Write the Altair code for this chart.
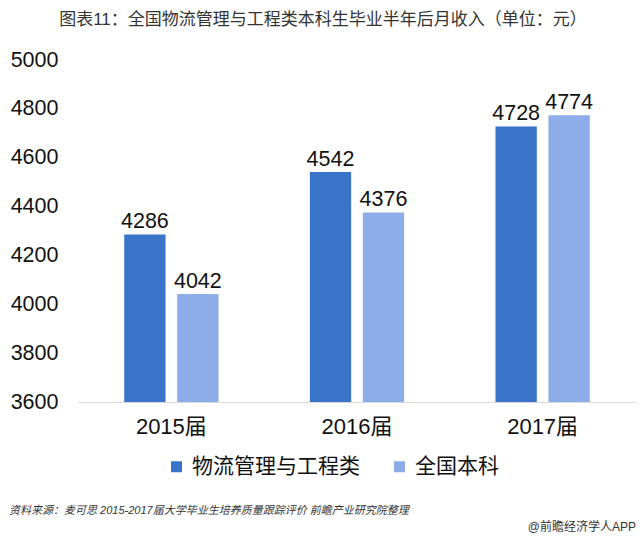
import altair as alt
import pandas as pd

years = ["2015届", "2016届", "2017届"]
series = ["物流管理与工程类", "全国本科"]
logistics = [4286, 4542, 4728]
national = [4042, 4376, 4774]
y_ticks = [3600, 3800, 4000, 4200, 4400, 4600, 4800, 5000]
colors = ["#3A74C8", "#8EACE8"]

title_text = "图表11：全国物流管理与工程类本科生毕业半年后月收入（单位：元）"
source_text = "资料来源：麦可思 2015-2017届大学毕业生培养质量跟踪评价 前瞻产业研究院整理"
brand_text = "@前瞻经济学人APP"

rows = []
for i, y in enumerate(years):
    rows.append({"year": y, "series": series[0], "value": logistics[i]})
    rows.append({"year": y, "series": series[1], "value": national[i]})
df = pd.DataFrame(rows)

FONT = "Liberation Sans, Arial, Noto Sans CJK SC, sans-serif"

x_enc = alt.X("year:N", sort=years, title=None,
              scale=alt.Scale(paddingInner=0.492, paddingOuter=0.249),
              axis=alt.Axis(labelAngle=0, labelFontSize=22, labelColor="#111111",
                            labelFont=FONT, labelPadding=14, ticks=False,
                            domain=True, domainColor="#D9D9D9", domainWidth=1))
xo_enc = alt.XOffset("series:N", sort=series,
                     scale=alt.Scale(paddingInner=0.22, paddingOuter=0))
y_scale = alt.Scale(domain=[3600, 5000], zero=False, nice=False)

bars = alt.Chart(df).mark_bar().encode(
    x=x_enc,
    xOffset=xo_enc,
    y=alt.Y("value:Q", scale=y_scale, title=None,
            axis=alt.Axis(values=y_ticks, format="d", grid=False, domain=False, ticks=False,
                          labelFontSize=21.5, labelColor="#111111", labelFont=FONT,
                          labelPadding=20)),
    y2=alt.datum(3600),
    color=alt.Color("series:N", sort=series,
                    scale=alt.Scale(domain=series, range=colors),
                    legend=alt.Legend(title=None, orient="none", legendX=88, legendY=396,
                                      direction="horizontal", symbolType="square",
                                      symbolSize=121, symbolStrokeWidth=0,
                                      labelFontSize=21, labelFont=FONT, labelColor="#111111",
                                      labelLimit=400,
                                      labelOffset=5, columnPadding=29, padding=0)),
)

labels = alt.Chart(df).mark_text(baseline="alphabetic", dy=-6, fontSize=21.5,
                                 font=FONT, color="#111111").encode(
    x=alt.X("year:N", sort=years),
    xOffset=alt.XOffset("series:N", sort=series),
    y=alt.Y("value:Q", scale=y_scale),
    text=alt.Text("value:Q", format="d"),
)

src = alt.Chart(pd.DataFrame({"t": [source_text]})).mark_text(
    align="left", baseline="middle", fontSize=11, fontStyle="italic",
    font=FONT, color="#333333").encode(
    x=alt.value(-69), y=alt.value(451), text="t:N")

brand = alt.Chart(pd.DataFrame({"t": [brand_text]})).mark_text(
    align="right", baseline="middle", fontSize=12,
    font=FONT, color="#333333").encode(
    x=alt.value(558), y=alt.value(467), text="t:N")

chart = alt.layer(bars, labels, src, brand).properties(
    width=558, height=342,
    autosize=alt.AutoSizeParams(type="none"),
    padding={"left": 70, "top": 52, "right": 0, "bottom": 132},
    title=alt.TitleParams(title_text, fontSize=17, font=FONT, fontWeight="normal",
                          color="#333333", anchor="middle", dx=-34, offset=20),
).configure_view(stroke=None)

chart.save("out.html", embed_options={"renderer": "svg", "actions": False})
